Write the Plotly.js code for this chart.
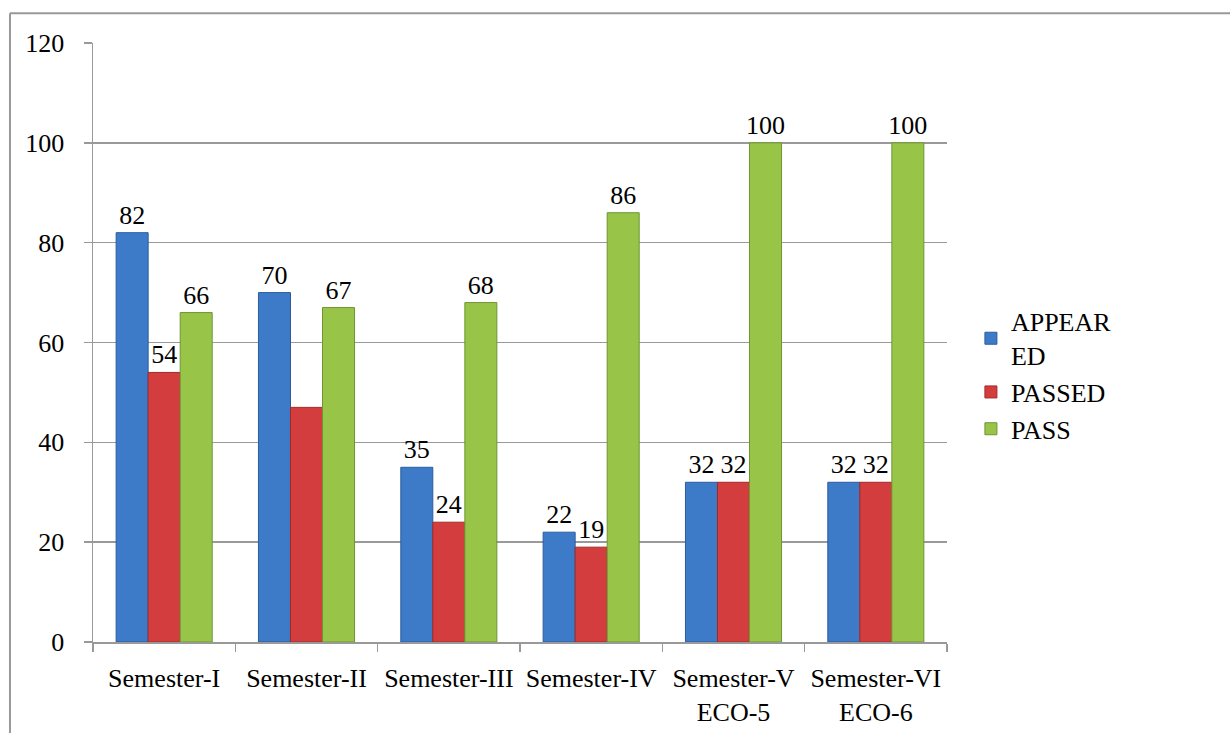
<!DOCTYPE html>
<html>
<head>
<meta charset="utf-8">
<script src="https://cdn.plot.ly/plotly-3.0.1.min.js"></script>
<style>
  html, body { margin: 0; padding: 0; background: #fff; }
  #chart { width: 1230px; height: 733px; }
</style>
</head>
<body>
<div id="chart"></div>
<script>
const categories = ["Semester-I", "Semester-II", "Semester-III", "Semester-IV", "Semester-V<br>ECO-5", "Semester-VI<br>ECO-6"];
const appeared = [82, 70, 35, 22, 32, 32];
const passed = [54, 47, 24, 19, 32, 32];
const passPct = [66, 67, 68, 86, 100, 100];
const passedLabels = ["54", "", "24", "19", "32", "32"];
const seriesNames = ["APPEAR<br>ED", "PASSED", "PASS"];
const yTicks = [0, 20, 40, 60, 80, 100, 120];

const FONT = '"Liberation Serif", "Times New Roman", serif';
const FS = 26;

function barTrace(name, values, labels, fill, edge) {
  return {
    type: "bar",
    name: name,
    x: categories,
    y: values,
    text: labels,
    texttemplate: "%{text}",
    textposition: "outside",
    constraintext: "none",
    cliponaxis: false,
    textfont: { family: FONT, size: FS, color: "#000" },
    marker: { color: fill, line: { color: edge, width: 1 } },
    hoverinfo: "skip"
  };
}

const data = [
  barTrace(seriesNames[0], appeared, appeared.map(String), "#3d7bc8", "#2b5c9e"),
  barTrace(seriesNames[1], passed, passedLabels, "#d33d3d", "#a02a2a"),
  barTrace(seriesNames[2], passPct, passPct.map(String), "#98c548", "#6f9432")
];

const layout = {
  width: 1230,
  height: 733,
  margin: { l: 93, r: 283, t: 43, b: 91, pad: 0 },
  paper_bgcolor: "#fff",
  plot_bgcolor: "#fff",
  font: { family: FONT, size: FS, color: "#000" },
  barmode: "group",
  bargap: 0.325,
  bargroupgap: 0,
  showlegend: true,
  legend: {
    x: 1.028, y: 0.445, xanchor: "left", yanchor: "middle",
    font: { family: FONT, size: FS, color: "#000" },
    itemwidth: 30, tracegroupgap: 0,
    bgcolor: "rgba(0,0,0,0)"
  },
  xaxis: {
    type: "category",
    showline: true, linecolor: "#999", linewidth: 1.5,
    ticks: "outside", tickson: "boundaries", ticklen: 8, tickcolor: "#999", tickwidth: 1.5,
    ticklabelstandoff: 12,
    showgrid: false, zeroline: false,
    tickfont: { family: FONT, size: FS, color: "#000" }
  },
  yaxis: {
    range: [0, 120],
    tickvals: yTicks,
    showline: true, linecolor: "#999", linewidth: 1.5,
    ticks: "outside", ticklen: 8, tickcolor: "#999", tickwidth: 1.5,
    ticklabelstandoff: 14,
    showgrid: true, gridcolor: "#999", gridwidth: 1.5,
    zeroline: false,
    tickfont: { family: FONT, size: FS, color: "#000" }
  },
  shapes: [
    { type: "line", xref: "paper", yref: "paper", x0: -0.0972, x1: 1.35, y0: 1.0497, y1: 1.0497, line: { color: "#999", width: 2 } },
    { type: "line", xref: "paper", yref: "paper", x0: -0.0972, x1: -0.0972, y0: 1.0497, y1: -0.2, line: { color: "#999", width: 2 } }
  ]
};

Plotly.newPlot("chart", data, layout, { displayModeBar: false, staticPlot: true });
</script>
</body>
</html>
